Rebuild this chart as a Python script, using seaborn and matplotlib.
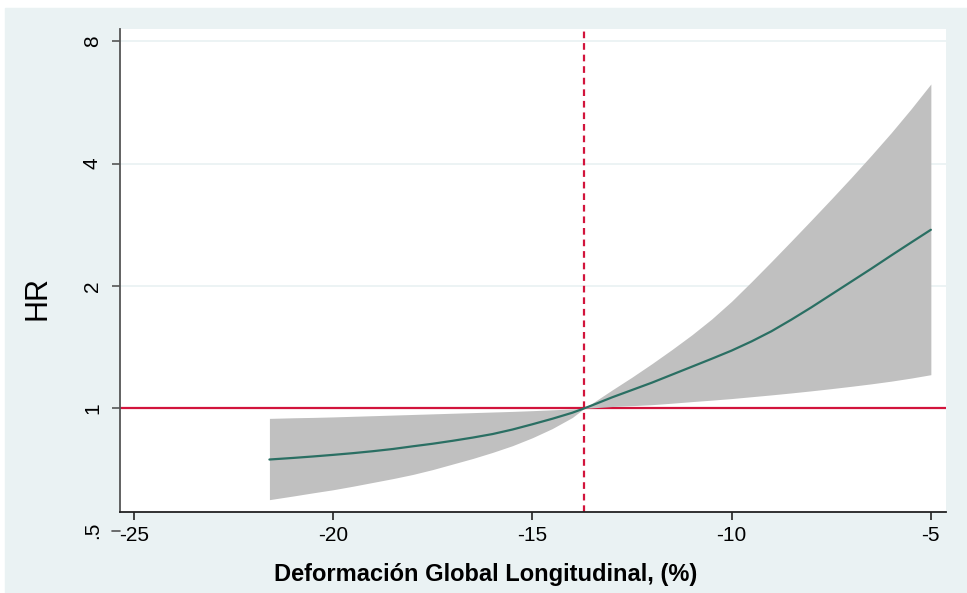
"""HR curve vs global longitudinal strain (Stata-like look)."""

import numpy as np
import matplotlib
matplotlib.use("Agg")
import matplotlib.pyplot as plt
import seaborn as sns
from matplotlib.patches import Rectangle
from matplotlib.ticker import NullLocator

gls = [-21.6, -21, -20.5, -20, -19.5, -19, -18.5, -18, -17.5, -17, -16.5,
       -16, -15.5, -15, -14.5, -14, -13.7, -13.5, -13, -12.5, -12, -11.5,
       -11, -10.5, -10, -9.5, -9, -8.5, -8, -7.5, -7, -6.5, -6, -5.5, -5]
# log2 of the hazard ratio and of its 95% CI limits (read on the log axis)
log2_hr = [-0.418, -0.405, -0.393, -0.38, -0.366, -0.35, -0.332, -0.31,
           -0.289, -0.265, -0.239, -0.21, -0.173, -0.13, -0.085, -0.036, 0.0,
           0.025, 0.09, 0.15, 0.21, 0.275, 0.34, 0.405, 0.472, 0.547, 0.63,
           0.725, 0.825, 0.93, 1.035, 1.14, 1.248, 1.354, 1.459]
log2_lo = [-0.746, -0.716, -0.69, -0.665, -0.636, -0.605, -0.574, -0.54,
           -0.5, -0.455, -0.41, -0.36, -0.305, -0.24, -0.165, -0.075, 0.0,
           0.004, 0.015, 0.022, 0.03, 0.042, 0.055, 0.067, 0.08, 0.095, 0.11,
           0.126, 0.143, 0.161, 0.18, 0.2, 0.222, 0.247, 0.275]
log2_hi = [-0.082, -0.077, -0.074, -0.07, -0.065, -0.06, -0.055, -0.05,
           -0.045, -0.04, -0.035, -0.03, -0.025, -0.019, -0.012, -0.005, 0.0,
           0.042, 0.15, 0.255, 0.365, 0.48, 0.6, 0.73, 0.875, 1.035, 1.2,
           1.368, 1.538, 1.71, 1.885, 2.065, 2.25, 2.445, 2.65]

cutoff_gls = -13.7
ref_hr = 1
x_ticks = [-25, -20, -15, -10, -5]
y_ticks = [1, 2, 4, 8]
y_labels = ["1", "2", "4", "8"]
low_tick, low_label = 0.5, ".5"

hr = 2.0 ** np.array(log2_hr)
hr_lo = 2.0 ** np.array(log2_lo)
hr_hi = 2.0 ** np.array(log2_hi)

BG = "#eaf2f3"
RED = "#d2143c"
TEAL = "#2a6f63"
BAND = "#c0c0c0"
AXIS = "#555555"

sns.set_theme(style="white")
plt.rcParams['font.family'] = ['Liberation Sans', 'DejaVu Sans']
plt.rcParams['text.color'] = 'black'
plt.rcParams['axes.labelcolor'] = 'black'

W, H = 967, 593
fig = plt.figure(figsize=(W / 100, H / 100), dpi=100, facecolor="white")
# outer (graph region) background, with thin white strip top/left
fig.patches.append(Rectangle((5 / W, 0), 1, 1 - 8 / H, transform=fig.transFigure,
                             color=BG, zorder=-5))

ax = fig.add_axes([120 / W, 1 - 512 / H, 826 / W, 483 / H])
ax.set_facecolor("white")
ax.set_yscale("log", base=2)
ax.set_xlim(-25.35, -4.62)
ax.set_ylim(0.556, 8.57)

# grid
ax.yaxis.grid(True, color=BG, lw=1.3, zorder=0)
ax.xaxis.grid(False)

# reference lines
ax.axhline(ref_hr, color=RED, lw=1.6, zorder=1)
ax.axvline(cutoff_gls, color=RED, lw=1.6, ls=(0, (3, 2.2)), zorder=1)

# CI band + curve
ax.fill_between(gls, hr_lo, hr_hi, color=BAND, lw=0, zorder=2)
sns.lineplot(x=gls, y=hr, ax=ax, color=TEAL, lw=1.6, estimator=None, zorder=3)

# axes styling
for s in ["top", "right"]:
    ax.spines[s].set_visible(False)
ax.spines["left"].set_color(AXIS)
ax.spines["left"].set_linewidth(1.3)
ax.spines["bottom"].set_color("#222222")
ax.spines["bottom"].set_linewidth(1.3)

ax.set_xticks(x_ticks, labels=[str(t) for t in x_ticks])
ax.set_yticks(y_ticks, labels=y_labels, rotation=90, va="center")
ax.yaxis.set_minor_locator(NullLocator())
ax.tick_params(axis="x", bottom=True, length=6, width=1.2, color="#222222",
               pad=4, labelsize=15, labelcolor="black")
ax.tick_params(axis="y", left=True, length=6, width=1.2, color=AXIS,
               pad=7, labelsize=15, labelcolor="black")

# the .5 tick sits below the plot region
ax.plot([-8.5 / 826, 0], [low_tick, low_tick], transform=ax.get_yaxis_transform(),
        color=AXIS, lw=1.2, clip_on=False)
ax.text(-(8.5 + 9.7) / 826, low_tick, low_label, transform=ax.get_yaxis_transform(),
        rotation=90, ha="right", va="center", fontsize=15, clip_on=False)

ax.set_ylabel("HR", fontsize=22, va="center")
ax.yaxis.set_label_coords(-0.0993, 0.444)
ax.set_xlabel("Deformación Global Longitudinal, (%)", fontsize=17,
              fontweight="bold", color="black")
ax.xaxis.set_label_coords(0.443, -0.1056)

fig.savefig("out.png", dpi=100, facecolor=fig.get_facecolor())
